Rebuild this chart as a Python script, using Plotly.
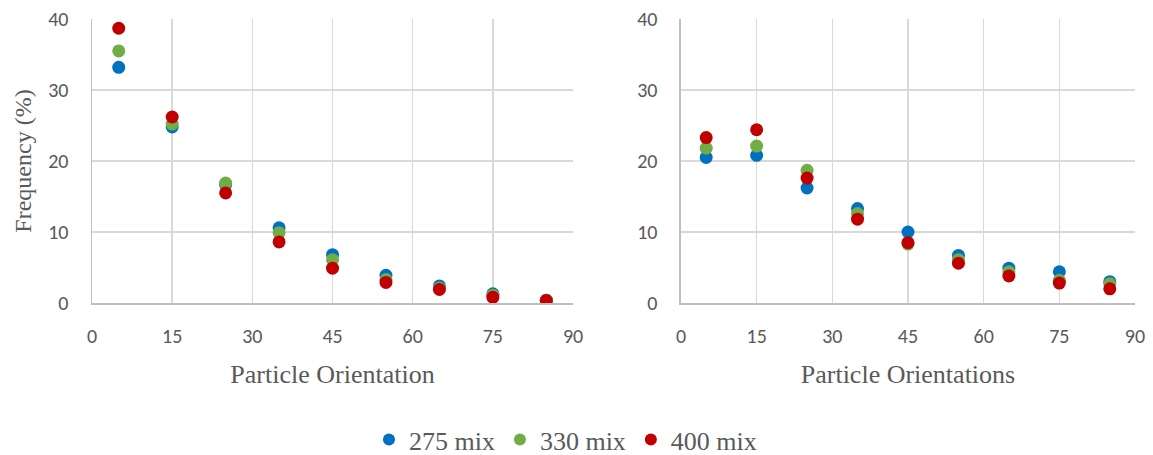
import plotly.graph_objects as go

orient = [5, 15, 25, 35, 45, 55, 65, 75, 85]

left_275 = [33.2, 24.8, 16.7, 10.6, 6.8, 3.9, 2.4, 1.3, 0.4]
left_330 = [35.5, 25.2, 16.9, 9.9, 6.1, 3.3, 2.1, 1.1, 0.4]
left_400 = [38.7, 26.2, 15.5, 8.6, 4.9, 2.9, 1.9, 0.8, 0.35]

right_275 = [20.5, 20.8, 16.2, 13.3, 10.0, 6.7, 4.9, 4.4, 3.0]
right_330 = [21.8, 22.1, 18.7, 12.6, 8.3, 6.1, 4.4, 3.2, 2.7]
right_400 = [23.3, 24.4, 17.6, 11.8, 8.5, 5.6, 3.8, 2.8, 2.0]

series = ["275 mix", "330 mix", "400 mix"]
colors = ["#0070C0", "#70AD47", "#C00000"]
x_ticks = [0, 15, 30, 45, 60, 75, 90]
y_ticks = [0, 10, 20, 30, 40]

fig = go.Figure()
for name, color, yl, yr in zip(series, colors,
                               [left_275, left_330, left_400],
                               [right_275, right_330, right_400]):
    fig.add_trace(go.Scatter(x=orient, y=yl, mode="markers", name=name,
                             marker=dict(color=color, size=13),
                             xaxis="x", yaxis="y", showlegend=True))
    fig.add_trace(go.Scatter(x=orient, y=yr, mode="markers", name=name,
                             marker=dict(color=color, size=13),
                             xaxis="x2", yaxis="y2", showlegend=False))

tickfont = dict(family="Carlito, Lato, Arial", size=20, color="#595959")
serif = "Liberation Serif, Times New Roman, serif"

common_x = dict(range=[0, 90], tickvals=x_ticks, showgrid=True, gridcolor="#D9D9D9",
                gridwidth=1.5, showline=True, linecolor="#BFBFBF", linewidth=1.5,
                zeroline=False, ticks="outside", ticklen=14, tickcolor="rgba(0,0,0,0)",
                tickfont=tickfont, automargin=False, fixedrange=True)
common_y = dict(range=[0, 40], tickvals=y_ticks, showgrid=True, gridcolor="#D9D9D9",
                gridwidth=1.5, showline=True, linecolor="#BFBFBF", linewidth=1.5,
                zeroline=False, ticks="outside", ticklen=18, tickcolor="rgba(0,0,0,0)",
                tickfont=tickfont, automargin=False, fixedrange=True)

# paper slightly taller than the window; the extra rows below are blank legend padding
H = 463
ydom = [(H - 303) / H, (H - 19) / H]

fig.update_layout(
    width=1153, height=H,
    margin=dict(l=0, r=0, t=0, b=0),
    paper_bgcolor="white", plot_bgcolor="white",
    xaxis=dict(common_x, domain=[0.0798, 0.497], anchor="y",
               title=dict(text="Particle Orientation", standoff=18,
                          font=dict(family=serif, size=26, color="#595959"))),
    yaxis=dict(common_y, domain=ydom, anchor="x",
               title=dict(text="Frequency (%)", standoff=10,
                          font=dict(family=serif, size=24, color="#595959"))),
    xaxis2=dict(common_x, domain=[0.5906, 0.9844], anchor="y2",
                title=dict(text="Particle Orientations", standoff=18,
                           font=dict(family=serif, size=26, color="#595959"))),
    yaxis2=dict(common_y, domain=ydom, anchor="x2"),
    legend=dict(orientation="h", x=0.320, xanchor="left", y=0.0, yanchor="bottom",
                font=dict(family=serif, size=26, color="#595959"),
                itemsizing="constant", itemwidth=30, tracegroupgap=0,
                bgcolor="rgba(0,0,0,0)"),
)

fig.write_html(
    "out.html",
    config={"displayModeBar": False, "staticPlot": True},
    post_script="document.body.style.margin='0';document.body.style.padding='0';"
                "document.documentElement.style.overflow='hidden';",
)
